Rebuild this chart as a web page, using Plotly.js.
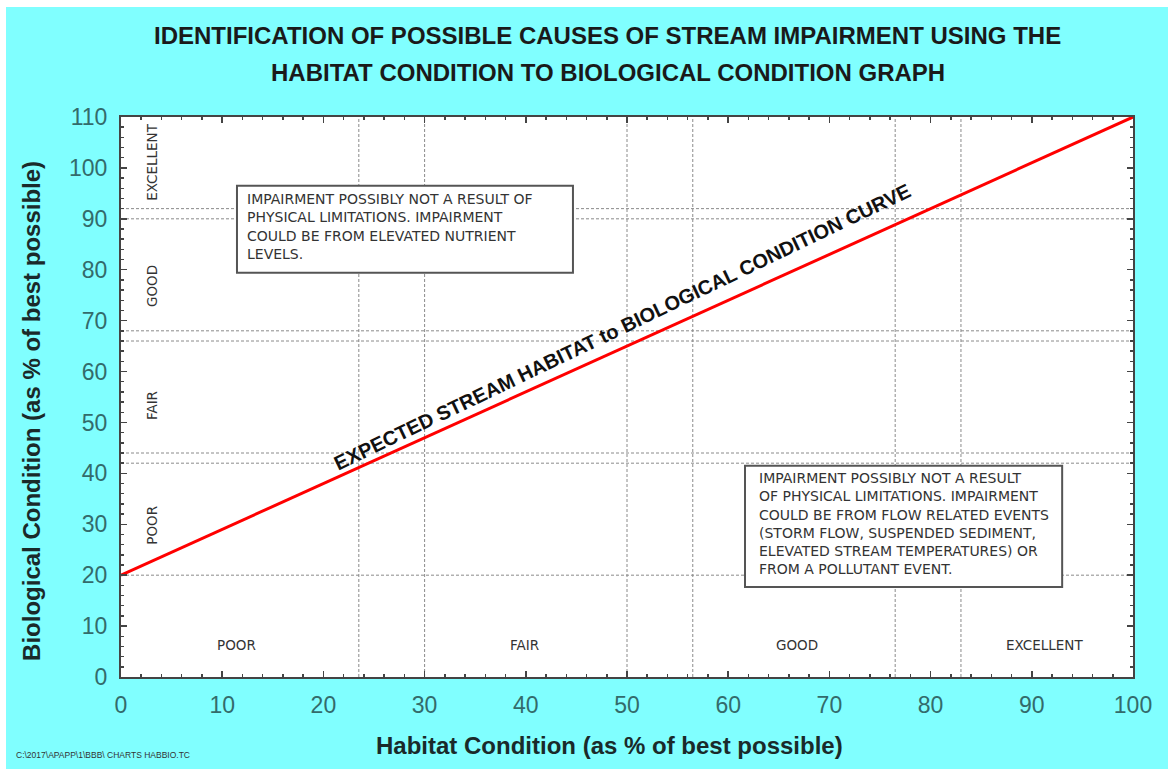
<!DOCTYPE html>
<html>
<head>
<meta charset="utf-8">
<script src="https://cdn.plot.ly/plotly-3.0.1.min.js"></script>
<style>
  html, body { margin: 0; padding: 0; background: #ffffff; }
  #chart { position: absolute; left: 6px; top: 7px; width: 1162px; height: 762px; }
</style>
</head>
<body>
<div id="chart"></div>
<script>
// ---- data ----
const habitat = [0, 100];
const biological = [20, 110];
const xTickVals = [0, 10, 20, 30, 40, 50, 60, 70, 80, 90, 100];
const yTickVals = [0, 10, 20, 30, 40, 50, 60, 70, 80, 90, 100, 110];
const habitatDividers = [23.5, 30, 50, 56.5, 76.5, 83];
const biologicalDividers = [92, 90, 68, 66, 44, 42, 20];
const bioClassLabels = ['EXCELLENT', 'GOOD', 'FAIR', 'POOR'];
const bioClassCenters = [101.2, 76.8, 53.4, 29.9];
const habClassLabels = ['POOR', 'FAIR', 'GOOD', 'EXCELLENT'];
const habClassCenters = [11.4, 39.9, 66.8, 91.3];
const curveLabel = 'EXPECTED STREAM HABITAT to BIOLOGICAL CONDITION CURVE';
const box1Lines = ['IMPAIRMENT POSSIBLY NOT A RESULT OF', 'PHYSICAL LIMITATIONS. IMPAIRMENT', 'COULD BE FROM ELEVATED NUTRIENT', 'LEVELS.'];
const box2Lines = ['IMPAIRMENT POSSIBLY NOT A RESULT', 'OF PHYSICAL LIMITATIONS. IMPAIRMENT', 'COULD BE FROM FLOW RELATED EVENTS', '(STORM FLOW, SUSPENDED SEDIMENT,', 'ELEVATED STREAM TEMPERATURES) OR', 'FROM A POLLUTANT EVENT.'];
const titleLines = ['IDENTIFICATION OF POSSIBLE CAUSES OF STREAM IMPAIRMENT USING THE', 'HABITAT CONDITION TO BIOLOGICAL CONDITION GRAPH'];
const xTitle = 'Habitat Condition (as % of best possible)';
const yTitle = 'Biological Condition (as % of best possible)';
const fileNote = 'C:\\2017\\APAPP\\1\\BBB\\ CHARTS HABBIO.TC';

// ---- layout helpers ----
const FONT = 'Liberation Sans, Arial, sans-serif';
const WIDE = 'DejaVu Sans, Liberation Sans, sans-serif';
const gridStyle = { color: '#8a8a8a', width: 1, dash: '3px,2px' };
const shapes = [];
habitatDividers.forEach(v => shapes.push({ type: 'line', xref: 'x', yref: 'paper', x0: v, x1: v, y0: 0, y1: 1, line: gridStyle, layer: 'below' }));
biologicalDividers.forEach(v => shapes.push({ type: 'line', xref: 'paper', yref: 'y', x0: 0, x1: 1, y0: v, y1: v, line: gridStyle, layer: 'below' }));
// text boxes
shapes.push({ type: 'rect', xref: 'x', yref: 'y', x0: 11.46, x1: 44.66, y0: 79.4, y1: 96.5, fillcolor: '#ffffff', line: { color: '#555555', width: 2 }, layer: 'above' });
shapes.push({ type: 'rect', xref: 'x', yref: 'y', x0: 61.66, x1: 93.0, y0: 17.7, y1: 41.5, fillcolor: '#ffffff', line: { color: '#555555', width: 2 }, layer: 'above' });

const annotations = [];
const lbl = { family: WIDE, size: 13.5, color: '#333333' };
bioClassLabels.forEach((t, i) => annotations.push({ x: 3.06, y: bioClassCenters[i], xref: 'x', yref: 'y', text: t, showarrow: false, textangle: -90, font: lbl }));
habClassLabels.forEach((t, i) => annotations.push({ x: habClassCenters[i], y: 6.3, xref: 'x', yref: 'y', text: t, showarrow: false, font: lbl }));
const pxY = 5.0909; // pixels per y unit
const boxFont = { family: WIDE, size: 14, color: '#333333' };
box1Lines.forEach((t, i) => annotations.push({ x: 12.25, y: 93.9 - i * 18.3 / pxY, xref: 'x', yref: 'y', xanchor: 'left', yanchor: 'middle', text: t, showarrow: false, font: boxFont }));
box2Lines.forEach((t, i) => annotations.push({ x: 62.85, y: 39.1 - i * 18.3 / pxY, xref: 'x', yref: 'y', xanchor: 'left', yanchor: 'middle', text: t, showarrow: false, font: boxFont }));
annotations.push({ x: 49.5, y: 68.8, xref: 'x', yref: 'y', text: '<b>' + curveLabel + '</b>', showarrow: false, textangle: -25.6, font: { family: FONT, size: 20, color: '#111111' } });
annotations.push({ x: 0.481, y: 1.146, xref: 'paper', yref: 'paper', xanchor: 'center', yanchor: 'middle', text: '<b>' + titleLines[0] + '</b>', showarrow: false, font: { family: FONT, size: 24, color: '#1a1a1a' } });
annotations.push({ x: 0.481, y: 1.079, xref: 'paper', yref: 'paper', xanchor: 'center', yanchor: 'middle', text: '<b>' + titleLines[1] + '</b>', showarrow: false, font: { family: FONT, size: 24, color: '#1a1a1a' } });
annotations.push({ x: 0.483, y: -0.123, xref: 'paper', yref: 'paper', xanchor: 'center', yanchor: 'middle', text: '<b>' + xTitle + '</b>', showarrow: false, font: { family: FONT, size: 24, color: '#1a2a2a' } });
annotations.push({ x: -0.089, y: 0.475, xref: 'paper', yref: 'paper', xanchor: 'center', yanchor: 'middle', text: '<b>' + yTitle + '</b>', showarrow: false, textangle: -90, font: { family: FONT, size: 24, color: '#1a2a2a' } });
annotations.push({ x: -0.1057, y: -0.139, xref: 'paper', yref: 'paper', xanchor: 'left', yanchor: 'middle', text: fileNote, showarrow: false, font: { family: FONT, size: 8.5, color: '#333333' } });

const axisCommon = {
  showgrid: false, zeroline: false, showline: true, mirror: 'allticks',
  linecolor: '#444444', linewidth: 2,
  ticks: 'inside', ticklen: 6, tickwidth: 1.5, tickcolor: '#444444',
  tickfont: { family: FONT, size: 23, color: '#336b6b' },
  fixedrange: true
};

const data = [{
  x: habitat, y: biological, type: 'scatter', mode: 'lines',
  line: { color: '#ff0000', width: 3 }, hoverinfo: 'skip', showlegend: false
}];

const layout = {
  width: 1162, height: 762,
  margin: { l: 115, r: 35, t: 110, b: 92, pad: 0 },
  paper_bgcolor: '#80ffff', plot_bgcolor: '#ffffff',
  showlegend: false,
  xaxis: Object.assign({}, axisCommon, {
    range: [0, 100], tickvals: xTickVals, ticklabelstandoff: 6,
    minor: { dtick: 2, ticks: 'inside', ticklen: 3, tickcolor: '#444444', tickwidth: 1.5 }
  }),
  yaxis: Object.assign({}, axisCommon, {
    range: [0, 110], tickvals: yTickVals, ticklabelstandoff: 7,
    minor: { dtick: 2, ticks: 'inside', ticklen: 3, tickcolor: '#444444', tickwidth: 1.5 }
  }),
  shapes: shapes,
  annotations: annotations
};

Plotly.newPlot('chart', data, layout, { displayModeBar: false, staticPlot: true });
</script>
</body>
</html>
